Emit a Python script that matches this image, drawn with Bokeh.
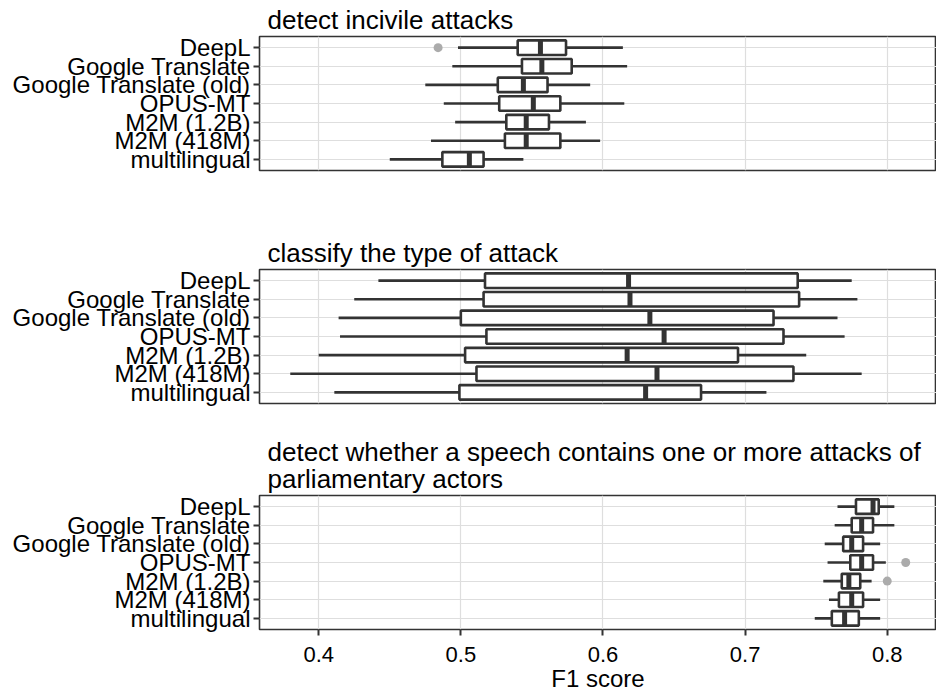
from bokeh.plotting import figure
from bokeh.models import FactorRange, Range1d, FixedTicker
from bokeh.layouts import column
from bokeh.embed import file_html
from bokeh.resources import INLINE

models = ["DeepL", "Google Translate", "Google Translate (old)", "OPUS-MT",
          "M2M (1.2B)", "M2M (418M)", "multilingual"]
x_ticks = [0.4, 0.5, 0.6, 0.7, 0.8]

titles = ["detect incivile attacks",
          "classify the type of attack",
          "detect whether a speech contains one or more attacks of\nparliamentary actors"]

# task 1: detect incivile attacks
incivil_lo = [0.498, 0.494, 0.475, 0.488, 0.496, 0.479, 0.450]
incivil_q1 = [0.540, 0.543, 0.526, 0.527, 0.532, 0.531, 0.487]
incivil_med = [0.556, 0.557, 0.544, 0.551, 0.546, 0.546, 0.506]
incivil_q3 = [0.574, 0.578, 0.561, 0.570, 0.562, 0.570, 0.516]
incivil_hi = [0.614, 0.617, 0.591, 0.615, 0.588, 0.598, 0.544]
incivil_out_model = ["DeepL"]
incivil_out_val = [0.484]

# task 2: classify the type of attack
type_lo = [0.442, 0.425, 0.414, 0.415, 0.400, 0.380, 0.411]
type_q1 = [0.517, 0.516, 0.500, 0.518, 0.503, 0.511, 0.499]
type_med = [0.618, 0.619, 0.633, 0.643, 0.617, 0.638, 0.630]
type_q3 = [0.737, 0.738, 0.720, 0.727, 0.695, 0.734, 0.669]
type_hi = [0.775, 0.779, 0.765, 0.770, 0.743, 0.782, 0.715]
type_out_model = []
type_out_val = []

# task 3: detect attacks of parliamentary actors
parl_lo = [0.765, 0.763, 0.756, 0.758, 0.755, 0.759, 0.749]
parl_q1 = [0.778, 0.775, 0.769, 0.774, 0.768, 0.766, 0.761]
parl_med = [0.790, 0.782, 0.775, 0.782, 0.773, 0.775, 0.770]
parl_q3 = [0.794, 0.790, 0.783, 0.790, 0.781, 0.783, 0.780]
parl_hi = [0.805, 0.805, 0.795, 0.799, 0.789, 0.795, 0.795]
parl_out_model = ["OPUS-MT", "M2M (1.2B)"]
parl_out_val = [0.813, 0.800]

all_vals = (incivil_lo + incivil_hi + incivil_out_val + type_lo + type_hi +
            parl_lo + parl_hi + parl_out_val)
vmin, vmax = min(all_vals), max(all_vals)
pad = (vmax - vmin) * 0.05
x_start, x_end = vmin - pad, vmax + pad

FONT = "Liberation Sans"
DARK = "#333333"
GRID = "#DEDEDE"


def panel(title, lo, q1, med, q3, hi, out_m, out_v, top, bottom, show_x):
    p = figure(y_range=FactorRange(factors=list(reversed(models)),
                                   range_padding=0.2 / 7),
               x_range=Range1d(x_start, x_end),
               frame_width=677, frame_height=134,
               min_border_left=259, min_border_right=0,
               min_border_top=top, min_border_bottom=bottom,
               output_backend="svg", toolbar_location=None)
    p.title.text = title
    p.title.align = "left"
    p.title.text_font = FONT
    p.title.text_font_size = "26px"
    p.title.text_font_style = "normal"
    p.title.text_color = "black"
    p.title.text_line_height = 0.9
    p.title.offset = 8
    p.title.standoff = 4
    p.outline_line_color = DARK
    p.outline_line_width = 1.6
    p.background_fill_color = "white"
    p.border_fill_color = "white"

    p.segment(x0=lo, y0=models, x1=q1, y1=models, line_color=DARK, line_width=2.6)
    p.segment(x0=q3, y0=models, x1=hi, y1=models, line_color=DARK, line_width=2.6)
    p.hbar(y=models, left=q1, right=q3, height=0.78, fill_color="white",
           line_color=DARK, line_width=2.6)
    p.rect(x=med, y=models, width=5, width_units="screen", height=0.78,
           fill_color=DARK, line_color=None)
    if out_v:
        p.scatter(x=out_v, y=out_m, size=9, fill_color="#ABABAB",
                  line_color=None)

    p.xaxis.ticker = FixedTicker(ticks=x_ticks)
    p.xgrid.ticker = FixedTicker(ticks=x_ticks)
    p.xgrid.grid_line_color = GRID
    p.ygrid.grid_line_color = GRID
    p.xgrid.grid_line_width = 1.2
    p.ygrid.grid_line_width = 1.2

    for ax in (p.xaxis[0], p.yaxis[0]):
        ax.axis_line_color = None
        ax.major_tick_line_color = DARK
        ax.major_tick_line_width = 2
        ax.major_tick_out = 6
        ax.major_tick_in = 0
        ax.minor_tick_line_color = None
        ax.major_label_text_font = FONT
        ax.major_label_text_color = "black"
        ax.major_label_standoff = 3
    p.yaxis.major_label_text_font_size = "24px"
    p.xaxis.major_label_text_font_size = "22px"
    if show_x:
        p.xaxis.axis_label = "F1 score"
        p.xaxis.axis_label_text_font = FONT
        p.xaxis.axis_label_text_font_size = "24px"
        p.xaxis.axis_label_text_font_style = "normal"
        p.xaxis.axis_label_text_color = "black"
        p.xaxis.axis_label_standoff = 0
        p.xaxis.major_label_standoff = 11
    else:
        p.xaxis.visible = False
    return p


p1 = panel(titles[0], incivil_lo, incivil_q1, incivil_med, incivil_q3, incivil_hi,
           incivil_out_model, incivil_out_val, 34, 58, False)
p2 = panel(titles[1], type_lo, type_q1, type_med, type_q3, type_hi,
           type_out_model, type_out_val, 41, 26, False)
p3 = panel(titles[2], parl_lo, parl_q1, parl_med, parl_q3, parl_hi,
           parl_out_model, parl_out_val, 66, 56, True)

layout = column(p1, p2, p3, spacing=0)
open("out.html", "w").write(file_html(layout, INLINE))
